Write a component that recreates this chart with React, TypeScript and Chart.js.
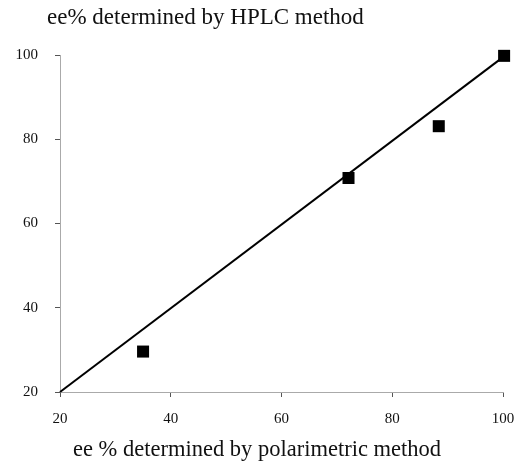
import React, { useEffect, useRef } from "react";
import { Chart, registerables } from "chart.js";

Chart.register(...registerables);

const polarimetricEE = [35.0, 72.1, 88.4, 100.2];
const hplcEE = [29.6, 70.8, 83.1, 99.8];
const fitX = [20, 100];
const fitY = [20, 99.5];
const tickValues = [20, 40, 60, 80, 100];
const yTitle = "ee% determined by HPLC method";
const xTitle = "ee % determined by polarimetric method";

const FONT = "'Liberation Serif', 'Times New Roman', serif";

const titlesPlugin = {
  id: "titlesPlugin",
  afterDraw(chart: any) {
    const { ctx, chartArea } = chart;
    ctx.save();
    ctx.fillStyle = "#111";
    ctx.font = `23px ${FONT}`;
    ctx.textAlign = "left";
    ctx.textBaseline = "middle";
    ctx.fillText(yTitle, chartArea.left - 13, 18);
    ctx.font = `22.5px ${FONT}`;
    ctx.textAlign = "center";
    ctx.fillText(xTitle, 257, 450);
    ctx.restore();
  },
};

export default function App() {
  const ref = useRef<HTMLCanvasElement | null>(null);
  useEffect(() => {
    if (!ref.current) return;
    const chart = new Chart(ref.current, {
      type: "scatter",
      data: {
        datasets: [
          {
            label: "fit",
            data: fitX.map((x, i) => ({ x, y: fitY[i] })),
            showLine: true,
            borderColor: "#000",
            borderWidth: 2,
            pointRadius: 0,
            fill: false,
            clip: false,
          },
          {
            label: "samples",
            data: polarimetricEE.map((x, i) => ({ x, y: hplcEE[i] })),
            showLine: false,
            pointStyle: "rect",
            pointRadius: 8.5,
            pointHoverRadius: 8.5,
            backgroundColor: "#000",
            borderColor: "#000",
            borderWidth: 0,
            clip: false,
          },
        ],
      },
      options: {
        animation: false,
        responsive: true,
        maintainAspectRatio: false,
        layout: { padding: { left: 0, right: 11, top: 55, bottom: 0 } },
        plugins: {
          legend: { display: false },
          tooltip: { enabled: false },
        },
        scales: {
          x: {
            type: "linear",
            min: 20,
            max: 100,
            afterFit: (s: any) => {
              s.height = 72;
              s.paddingLeft = 0;
              s.paddingRight = 0;
            },
            afterBuildTicks: (s: any) => {
              s.ticks = tickValues.map((v) => ({ value: v }));
            },
            grid: {
              drawOnChartArea: false,
              drawTicks: true,
              tickLength: 5,
              tickColor: "#555",
            },
            border: { display: true, color: "#aaa", dash: [4, 3], width: 1 },
            ticks: {
              color: "#111",
              padding: 13,
              font: { family: FONT, size: 15 },
            },
          },
          y: {
            type: "linear",
            min: 20,
            max: 100,
            afterFit: (s: any) => {
              s.width = 60;
              s.paddingTop = 0;
              s.paddingBottom = 0;
            },
            afterBuildTicks: (s: any) => {
              s.ticks = tickValues.map((v) => ({ value: v }));
            },
            grid: {
              drawOnChartArea: false,
              drawTicks: true,
              tickLength: 5,
              tickColor: "#555",
            },
            border: { display: true, color: "#aaa", dash: [4, 3], width: 1 },
            ticks: {
              color: "#111",
              padding: 17,
              font: { family: FONT, size: 15 },
            },
          },
        },
      },
      plugins: [titlesPlugin],
    });
    return () => chart.destroy();
  }, []);
  return (
    <div style={{ position: "absolute", left: 0, top: 0, width: 514, height: 464, background: "#fff" }}>
      <canvas ref={ref} />
    </div>
  );
}
